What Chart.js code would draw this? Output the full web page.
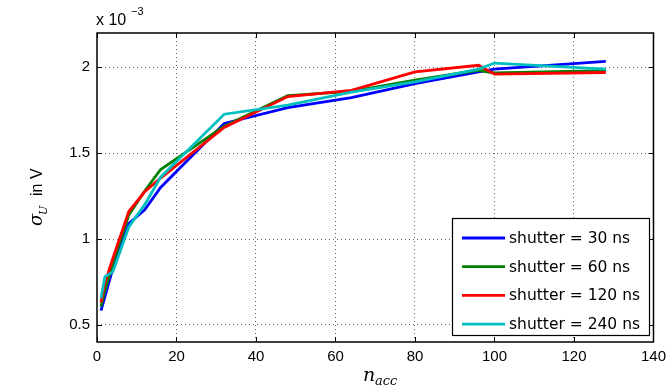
<!DOCTYPE html>
<html>
<head>
<meta charset="utf-8">
<script src="https://cdn.jsdelivr.net/npm/chart.js@4"></script>
<style>
  html, body { margin: 0; padding: 0; background: white; }
  #wrap { width: 672px; height: 390px; }
</style>
</head>
<body>
<div id="wrap"><canvas id="myChart" width="672" height="390"></canvas></div>
<script>
// accumulation counts (x) and noise values in units of 1e-3 V
let nAcc = [1, 2, 4, 8, 12, 16, 32, 48, 64, 80, 96, 100, 128]
let shutter30 = [0.583, 0.665, 0.83, 1.09, 1.17, 1.30, 1.673, 1.765, 1.824, 1.905, 1.973, 1.99, 2.035]
let shutter60 = [0.607, 0.70, 0.86, 1.14, 1.28, 1.405, 1.657, 1.835, 1.86, 1.925, 1.983, 1.967, 1.98]
let shutter120 = [0.63, 0.745, 0.888, 1.16, 1.275, 1.355, 1.65, 1.83, 1.866, 1.973, 2.012, 1.96, 1.97]
let shutter240 = [0.655, 0.78, 0.81, 1.07, 1.2, 1.36, 1.727, 1.78, 1.855, 1.915, 1.99, 2.025, 1.99]
let seriesLabels = ['shutter = 30 ns', 'shutter = 60 ns', 'shutter = 120 ns', 'shutter = 240 ns']
let xTicks = [0, 20, 40, 60, 80, 100, 120, 140]
let yTicks = [0.5, 1, 1.5, 2]

let colors = ['#0000ff', '#008000', '#ff0000', '#00bfbf']
let allSeries = [shutter30, shutter60, shutter120, shutter240]

function toPoints(values) {
  return values.map((v, i) => ({ x: nAcc[i], y: v }))
}

let datasets = allSeries.map((s, i) => ({
  label: seriesLabels[i],
  data: toPoints(s),
  borderColor: colors[i],
  backgroundColor: colors[i],
  borderWidth: 2.8,
  pointRadius: 0,
  tension: 0,
  order: 4 - i
}))

// box, inward ticks, titles and the legend in MATLAB style
let matlabDeco = {
  id: 'matlabDeco',
  afterDraw(chart) {
    let ctx = chart.ctx
    let a = chart.chartArea
    let xs = chart.scales.x
    let ys = chart.scales.y
    ctx.save()
    ctx.strokeStyle = '#000'
    ctx.lineWidth = 1
    ctx.setLineDash([])
    ctx.beginPath()
    xTicks.forEach((t) => {
      let px = Math.round(xs.getPixelForValue(t)) + 0.5
      ctx.moveTo(px, a.bottom); ctx.lineTo(px, a.bottom - 5)
      ctx.moveTo(px, a.top); ctx.lineTo(px, a.top + 5)
    })
    yTicks.forEach((t) => {
      let py = Math.round(ys.getPixelForValue(t)) + 0.5
      ctx.moveTo(a.left, py); ctx.lineTo(a.left + 5, py)
      ctx.moveTo(a.right, py); ctx.lineTo(a.right - 5, py)
    })
    ctx.stroke()
    ctx.lineWidth = 1.5
    ctx.strokeRect(a.left, a.top, a.right - a.left, a.bottom - a.top)

    // multiplier
    ctx.fillStyle = '#000'
    ctx.textBaseline = 'alphabetic'
    ctx.textAlign = 'left'
    ctx.font = '16px "Liberation Sans", Arial, sans-serif'
    ctx.fillText('x 10', 96, 25)
    ctx.font = '11px "Liberation Sans", Arial, sans-serif'
    ctx.fillText('\u22123', 131, 15)

    // x title
    ctx.font = 'italic 19px "DejaVu Serif", "Liberation Serif", serif'
    ctx.fillText('n', 363, 381)
    ctx.font = 'italic 13px "DejaVu Serif", "Liberation Serif", serif'
    ctx.fillText('acc', 375, 385)

    // y title
    ctx.save()
    ctx.translate(42, 188)
    ctx.rotate(-Math.PI / 2)
    ctx.font = 'italic 18px "DejaVu Serif", "Liberation Serif", serif'
    ctx.fillText('\u03c3', -38, 0)
    ctx.font = 'italic 11px "DejaVu Serif", "Liberation Serif", serif'
    ctx.fillText('U', -27, 5)
    ctx.font = '16px "Liberation Sans", Arial, sans-serif'
    ctx.fillText('in V', -8, 0)
    ctx.restore()

    // legend
    let lx = 452, ly = 218, lw = 197, lh = 117
    ctx.fillStyle = '#fff'
    ctx.fillRect(lx, ly, lw, lh)
    ctx.lineWidth = 1.2
    ctx.strokeStyle = '#000'
    ctx.strokeRect(lx + 0.5, ly + 0.5, lw, lh)
    ctx.font = '15.5px "DejaVu Sans", sans-serif'
    ctx.textBaseline = 'middle'
    chart.data.datasets.forEach((ds, i) => {
      let y = ly + 20 + i * 28.7
      ctx.strokeStyle = ds.borderColor
      ctx.lineWidth = 2.8
      ctx.beginPath()
      ctx.moveTo(lx + 10, y)
      ctx.lineTo(lx + 53, y)
      ctx.stroke()
      ctx.fillStyle = '#000'
      ctx.fillText(ds.label, lx + 57, y + 1)
    })
    ctx.restore()
  }
}

let myChart = document.getElementById('myChart').getContext('2d')
let noiseChart = new Chart(myChart, {
  type: 'line',
  data: { datasets: datasets },
  options: {
    responsive: false,
    animation: false,
    layout: { padding: { left: 0, right: 16, top: 33, bottom: 0 } },
    plugins: {
      legend: { display: false },
      tooltip: { enabled: false }
    },
    scales: {
      x: {
        type: 'linear',
        min: 0,
        max: 140,
        afterBuildTicks: (scale) => { scale.ticks = xTicks.map((v) => ({ value: v })) },
        afterFit: (scale) => { scale.height = 48 },
        ticks: {
          color: '#000',
          padding: 6,
          maxRotation: 0,
          font: { family: '"Liberation Sans", Arial, sans-serif', size: 15 }
        },
        grid: {
          color: (c) => (c.tick && (c.tick.value === 0 || c.tick.value === 140) ? 'rgba(0,0,0,0)' : '#666'),
          drawTicks: false,
          lineWidth: 1
        },
        border: { display: false, dash: [1, 3] }
      },
      y: {
        type: 'linear',
        min: 0.4,
        max: 2.2,
        afterBuildTicks: (scale) => { scale.ticks = yTicks.map((v) => ({ value: v })) },
        afterFit: (scale) => { scale.width = 97 },
        ticks: {
          color: '#000',
          padding: 7,
          callback: (v) => String(v),
          font: { family: '"Liberation Sans", Arial, sans-serif', size: 15 }
        },
        grid: {
          color: '#666',
          drawTicks: false,
          lineWidth: 1
        },
        border: { display: false, dash: [1, 3] }
      }
    }
  },
  plugins: [matlabDeco]
})
</script>
</body>
</html>
